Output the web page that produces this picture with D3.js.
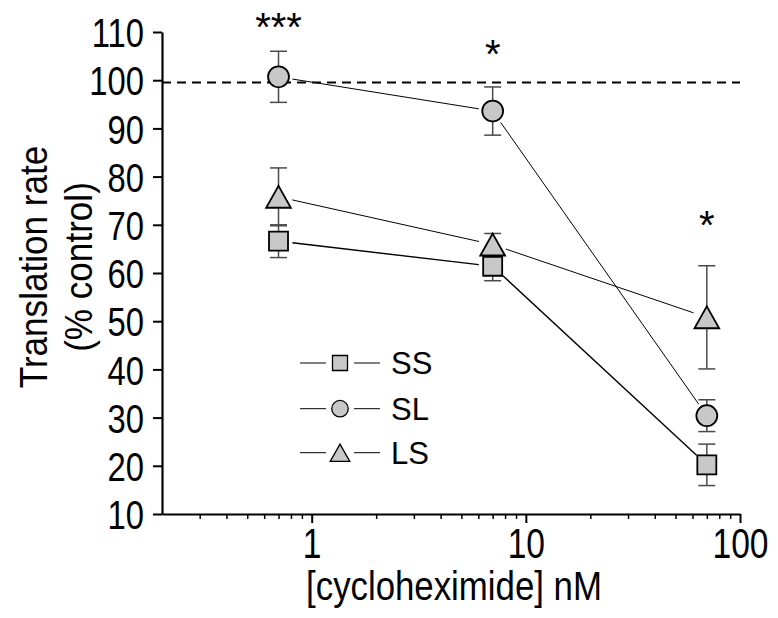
<!DOCTYPE html>
<html lang="en">
<head>
<meta charset="UTF-8">
<title>Translation rate vs cycloheximide</title>
<script src="https://d3js.org/d3.v7.min.js"></script>
<style>
  body { margin: 0; background: #fff; }
  svg { display: block; font-family: "Liberation Sans", Arial, sans-serif; }
</style>
</head>
<body>
<svg id="chart" width="778" height="618"></svg>
<script>
// doses (nM) and group means / SEM
const doses = [0.7, 7, 70];
const ssMean = [66.6, 61.4, 20.2];
const ssErr = [3.4, 3.0, 4.3];
const slMean = [100.7, 93.6, 30.4];
const slErr = [5.3, 5.0, 3.3];
const lsMean = [75.8, 65.9, 50.8];
const lsErr = [6.0, 2.3, 10.7];
const starLabels = ["***", "*", "*"];
const starLevel = [112.9, 107.3, 71.8];
const controlLevel = 99.5;
const yTicks = [10, 20, 30, 40, 50, 60, 70, 80, 90, 100, 110];
const xMajor = [1, 10, 100];
const xMinor = [0.3, 0.4, 0.5, 0.6, 0.7, 0.8, 0.9, 2, 3, 4, 5, 6, 7, 8, 9, 20, 30, 40, 50, 60, 70, 80, 90];

const series = [
  {name: "SS", shape: "square", mean: ssMean, err: ssErr, lw: 1.4},
  {name: "SL", shape: "circle", mean: slMean, err: slErr, lw: 1},
  {name: "LS", shape: "triangle", mean: lsMean, err: lsErr, lw: 1}
];

const svg = d3.select("#chart");
const x = d3.scaleLog().domain([0.2, 100]).range([162, 740]);
const y = d3.scaleLinear().domain([10, 110]).range([514, 32]);

const fill = "#c8c8c8";

function markerPath(shape, s) {
  // s = nominal size in px
  if (shape === "square") {
    const h = s / 2;
    return `M${-h},${-h}H${h}V${h}H${-h}Z`;
  }
  if (shape === "triangle") {
    const w = s * 1.3 / 2, h = s * 1.15 / 2;
    return `M0,${-h}L${w},${h}L${-w},${h}Z`;
  }
  const r = s * 1.1 / 2;
  return `M${r},0A${r},${r} 0 1,1 ${-r},0A${r},${r} 0 1,1 ${r},0Z`;
}

// dashed control line
svg.append("line")
  .attr("x1", x(0.2)).attr("x2", x(100))
  .attr("y1", y(controlLevel)).attr("y2", y(controlLevel))
  .attr("stroke", "#000").attr("stroke-width", 2)
  .attr("stroke-dasharray", "9,6");

// connecting lines, stopped short of the markers
series.forEach(s => {
  for (let i = 0; i < doses.length - 1; i++) {
    const x0 = x(doses[i]), y0 = y(s.mean[i]);
    const x1 = x(doses[i + 1]), y1 = y(s.mean[i + 1]);
    const len = Math.hypot(x1 - x0, y1 - y0);
    const ux = (x1 - x0) / len, uy = (y1 - y0) / len;
    const gap = 14;
    svg.append("line")
      .attr("x1", x0 + ux * gap).attr("y1", y0 + uy * gap)
      .attr("x2", x1 - ux * gap).attr("y2", y1 - uy * gap)
      .attr("stroke", "#000").attr("stroke-width", s.lw);
  }
});

// error bars
series.forEach(s => {
  const g = svg.append("g").attr("stroke", "#4a4a4a").attr("stroke-width", 1.5);
  doses.forEach((d, i) => {
    const cx = x(d);
    const top = y(s.mean[i] + s.err[i]), bot = y(s.mean[i] - s.err[i]);
    g.append("line").attr("x1", cx).attr("x2", cx).attr("y1", top).attr("y2", bot);
    g.append("line").attr("x1", cx - 8.5).attr("x2", cx + 8.5).attr("y1", top).attr("y2", top);
    g.append("line").attr("x1", cx - 8.5).attr("x2", cx + 8.5).attr("y1", bot).attr("y2", bot);
  });
});

// markers
series.forEach(s => {
  svg.append("g").selectAll("path")
    .data(doses)
    .join("path")
    .attr("d", markerPath(s.shape, 19))
    .attr("transform", (d, i) => `translate(${x(d)},${y(s.mean[i])})`)
    .attr("fill", fill).attr("stroke", "#000").attr("stroke-width", 1.8);
});

// significance stars
svg.append("g").selectAll("text")
  .data(doses)
  .join("text")
  .attr("x", d => x(d))
  .attr("y", (d, i) => y(starLevel[i]) + 23)
  .attr("text-anchor", "middle")
  .attr("font-size", 40)
  .text((d, i) => starLabels[i]);

// y axis
const yAxisG = svg.append("g")
  .attr("transform", `translate(${x(0.2)},0)`)
  .call(d3.axisLeft(y).tickValues(yTicks).tickSize(9).tickSizeOuter(0).tickFormat(d3.format("d")));
yAxisG.select(".domain").attr("stroke-width", 2.2);
yAxisG.selectAll(".tick line").attr("stroke-width", 2);
yAxisG.selectAll(".tick text")
  .attr("font-size", 41).attr("font-family", null)
  .attr("x", -18 / 0.8).attr("dy", "0.36em")
  .attr("transform", "scale(0.8,1)");

// x axis: minor then major ticks
const xMinorG = svg.append("g")
  .attr("transform", `translate(0,${y(10)})`)
  .call(d3.axisBottom(x).tickValues(xMinor).tickSize(5).tickSizeOuter(0).tickFormat(""));
xMinorG.select(".domain").attr("stroke-width", 2.2);
xMinorG.selectAll(".tick line").attr("stroke-width", 1.5);

const xMajorG = svg.append("g")
  .attr("transform", `translate(0,${y(10)})`)
  .call(d3.axisBottom(x).tickValues(xMajor).tickSize(9).tickSizeOuter(0).tickFormat(d3.format("d")));
xMajorG.select(".domain").remove();
xMajorG.selectAll(".tick line").attr("stroke-width", 2);
xMajorG.selectAll(".tick text")
  .attr("font-size", 42).attr("font-family", null)
  .attr("y", 14).attr("dy", "0.71em")
  .attr("transform", "scale(0.8,1)");

// axis titles
svg.append("text")
  .attr("transform", "translate(454,600) scale(0.87,1)")
  .attr("text-anchor", "middle")
  .attr("font-size", 40)
  .text("[cycloheximide] nM");

svg.append("text")
  .attr("transform", "translate(47,267) rotate(-90) scale(0.9,1)")
  .attr("text-anchor", "middle")
  .attr("font-size", 39)
  .text("Translation rate");
svg.append("text")
  .attr("transform", "translate(92,267) rotate(-90) scale(0.9,1)")
  .attr("text-anchor", "middle")
  .attr("font-size", 39)
  .text("(% control)");

// legend
const legendRows = [363, 408.7, 452.7];
const legend = svg.append("g");
series.forEach((s, i) => {
  const g = legend.append("g").attr("transform", `translate(300,${legendRows[i]})`);
  g.append("line").attr("x1", 0).attr("x2", 26).attr("stroke", "#000").attr("stroke-width", 1);
  g.append("line").attr("x1", 54).attr("x2", 80).attr("stroke", "#000").attr("stroke-width", 1);
  g.append("path")
    .attr("d", markerPath(s.shape, 15))
    .attr("transform", "translate(40,0)")
    .attr("fill", fill).attr("stroke", "#000").attr("stroke-width", 1.3);
  g.append("text")
    .attr("x", 91).attr("dy", "0.36em")
    .attr("font-size", 31)
    .text(s.name);
});
</script>
</body>
</html>
